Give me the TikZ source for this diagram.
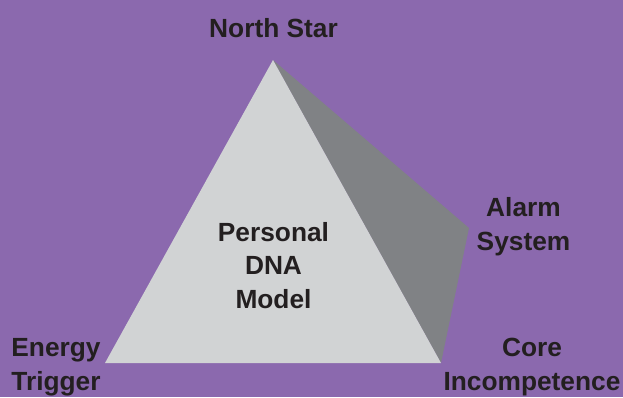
\documentclass[tikz,border=0pt]{standalone}
\usepackage{fontspec}
\setmainfont{Liberation Sans}
\definecolor{bgpurple}{HTML}{8B69AE}
\definecolor{lightface}{HTML}{D1D3D4}
\definecolor{darkface}{HTML}{808285}
\definecolor{labeltext}{HTML}{231F20}
\begin{document}
\begin{tikzpicture}[x=1pt,y=-1pt,
  lbl/.style={font=\fontsize{26.3}{33.5}\selectfont\bfseries, text=labeltext, align=center, inner sep=0pt, anchor=base}]
\fill[bgpurple] (0,0) rectangle (623,397);
\useasboundingbox (0,0) rectangle (623,397);
\coordinate (apex) at (273,60);
\coordinate (left) at (105,363);
\coordinate (right) at (441,363);
\coordinate (alarm) at (469,228);
\fill[darkface] (apex) -- (alarm) -- (right) -- cycle;
\fill[lightface] (apex) -- (left) -- (right) -- cycle;
% base anchor = baseline of the last line
\node[lbl] (north) at (273.5,37) {North Star};
\node[lbl] (alarmlbl) at (523.5,250) {Alarm\\System};
\node[lbl] (energy) at (56,390) {Energy\\Trigger};
\node[lbl] (core) at (532,390) {Core\\Incompetence};
\node[lbl] (dna) at (273.5,308) {Personal\\DNA\\Model};
\end{tikzpicture}
\end{document}
